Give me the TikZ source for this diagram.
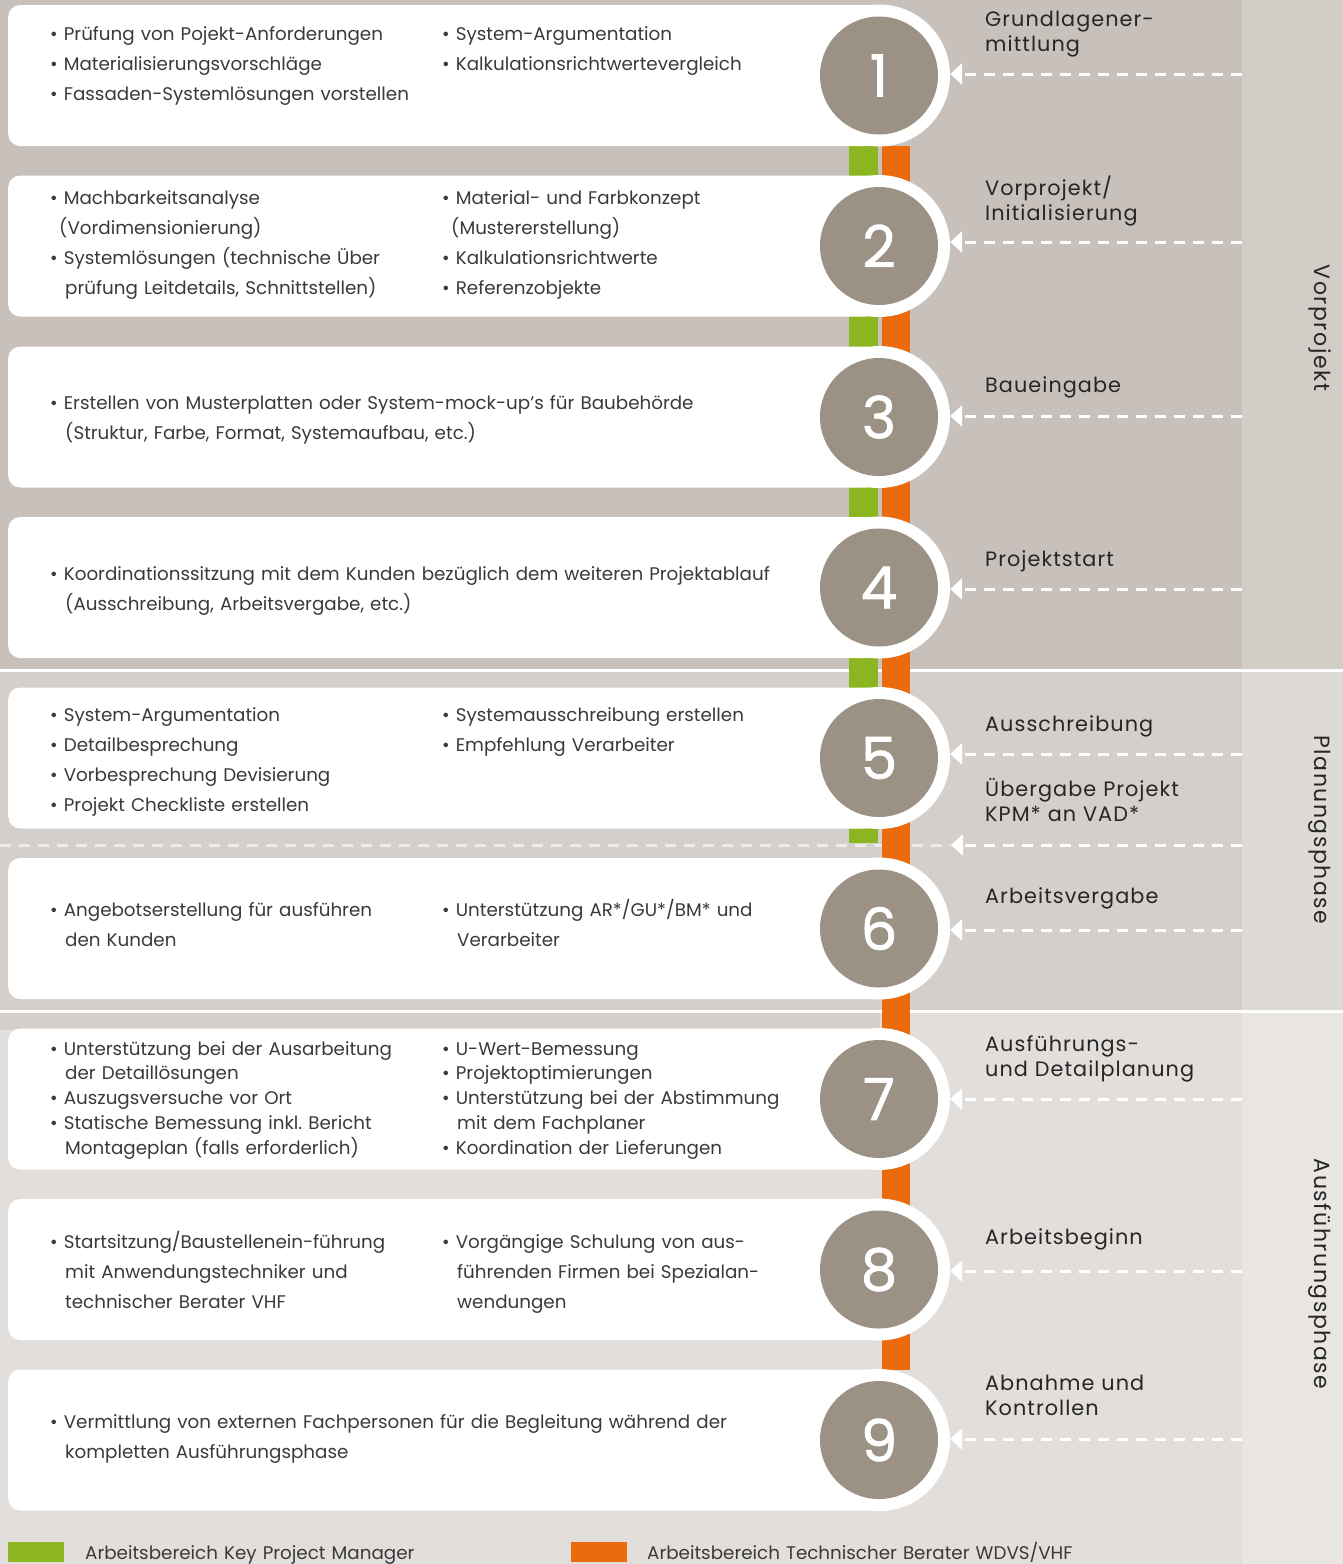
\documentclass[tikz,border=0pt]{standalone}
\usepackage{fontspec}
\setmainfont{Poppins}
\newfontfamily\labelfont[LetterSpace=5]{Poppins}
\newfontfamily\phasefont[LetterSpace=7]{Poppins}
\newfontfamily\digitfont[FakeBold=1.2]{Poppins}
\usetikzlibrary{arrows.meta}

\definecolor{vorbg}{HTML}{C8C1BB}
\definecolor{vorstrip}{HTML}{D3CDC8}
\definecolor{planbg}{HTML}{D4CFCA}
\definecolor{planstrip}{HTML}{DEDAD6}
\definecolor{ausbg}{HTML}{E2DEDB}
\definecolor{ausstrip}{HTML}{E8E5E2}
\definecolor{numgray}{HTML}{9C9185}
\definecolor{kpm}{HTML}{8BB521}
\definecolor{tb}{HTML}{EA6A0C}
\definecolor{textgray}{HTML}{3A3A3A}

\newcommand\cont{\hspace*{15pt}}

\tikzset{
  card/.style={fill=white,rounded corners=12pt,minimum width=871pt,%
    minimum height=141pt,inner sep=0pt,anchor=west},
  ring/.style={circle,fill=white,minimum size=142pt,inner sep=0pt},
  num/.style={circle,fill=numgray,minimum size=118pt,inner sep=0pt,%
    text=white,font=\digitfont\fontsize{58}{58}\selectfont},
  txt/.style={anchor=base west,align=left,inner sep=0pt,text=textgray,%
    text width=#1,font=\fontsize{18.3}{30}\selectfont},
  txt/.default=380pt,
  txtb/.style={txt=#1,font=\fontsize{18.3}{24.8}\selectfont},
  txtb/.default=380pt,
  stage/.style={anchor=base west,align=left,inner sep=0pt,text=black!85,%
    text width=250pt,font=\labelfont\fontsize{20.8}{25}\selectfont},
  phase/.style={rotate=-90,inner sep=0pt,text=black!85,%
    font=\phasefont\fontsize{22}{25}\selectfont},
  flow/.style={white,line width=3pt,dash pattern=on 11pt off 8pt,%
    -{Triangle[length=12pt,width=21pt]}},
}

\begin{document}
\begin{tikzpicture}[x=1pt,y=-1pt]
  \useasboundingbox (0,0) rectangle (1343,1564) ;
  % phase bands
  \fill[vorbg] (0,0) rectangle (1242,669) ;
  \fill[vorstrip] (1242,0) rectangle (1343,669) ;
  \fill[planbg] (0,672) rectangle (1242,1010) ;
  \fill[planstrip] (1242,672) rectangle (1343,1010) ;
  \fill[ausbg] (0,1013) rectangle (1242,1564) ;
  \fill[ausstrip] (1242,1013) rectangle (1343,1564) ;
  \fill[planbg] (0,1013) rectangle (880,1030) ;
  \fill[white] (0,669) rectangle (1343,672) ;
  \fill[white] (0,1010) rectangle (1343,1013) ;

  % handover line
  \coordinate (hand0) at (0,845) ;
  \coordinate (hand1) at (1242,845) ;
  \coordinate (hand2) at (951,845) ;
  \draw[white,opacity=.6,line width=3pt,dash pattern=on 11pt off 8pt] %
    (hand0) -- (hand2) ;

  % working areas
  \fill[kpm] (849,146) rectangle (878,843) ;
  \fill[tb] (882,146) rectangle (910,1370) ;

  % cards and numbers
  \foreach \i/\y in {1/75.5,2/246,3/417,4/587.5,5/758,6/928.5,7/1099,8/1269.5,9/1440}
  {
    \node[card] (card\i) at (8,\y) {} ;
    \node[ring] (ring\i) at (879,\y) {} ;
    \node[num] (num\i) at (ring\i) {\i} ;
  }

  % card texts
  \node[txt] (t1a) at (50,40) {• Prüfung von Pojekt-Anforderungen\\%
    • Materialisierungsvorschläge\\• Fassaden-Systemlösungen vorstellen} ;
  \node[txt] (t1b) at (442,40) {• System-Argumentation\\%
    • Kalkulationsrichtwertevergleich} ;
  \node[txt] (t2a) at (50,204) {• Machbarkeitsanalyse\\%
    \hspace*{9pt}(Vordimensionierung)\\• Systemlösungen (technische Über\\%
    \cont prüfung Leitdetails, Schnittstellen)} ;
  \node[txt] (t2b) at (442,204) {• Material- und Farbkonzept\\%
    \hspace*{9pt}(Mustererstellung)\\• Kalkulationsrichtwerte\\%
    • Referenzobjekte} ;
  \node[txt=760pt] (t3) at (50,409) {• Erstellen von Musterplatten oder %
    System-mock-up's für Baubehörde\\%
    \cont(Struktur, Farbe, Format, Systemaufbau, etc.)} ;
  \node[txt=760pt] (t4) at (50,580) {• Koordinationssitzung mit dem Kunden %
    bezüglich dem weiteren Projektablauf\\%
    \cont(Ausschreibung, Arbeitsvergabe, etc.)} ;
  \node[txt] (t5a) at (50,721) {• System-Argumentation\\• Detailbesprechung\\%
    • Vorbesprechung Devisierung\\• Projekt Checkliste erstellen} ;
  \node[txt] (t5b) at (442,721) {• Systemausschreibung erstellen\\%
    • Empfehlung Verarbeiter} ;
  \node[txt] (t6a) at (50,916) {• Angebotserstellung für ausführen\\%
    \cont den Kunden} ;
  \node[txt] (t6b) at (442,916) {• Unterstützung AR*/GU*/BM* und\\%
    \cont Verarbeiter} ;
  \node[txtb] (t7a) at (50,1055) {• Unterstützung bei der Ausarbeitung\\%
    \cont der Detaillösungen\\• Auszugsversuche vor Ort\\%
    • Statische Bemessung inkl.\ Bericht\\%
    \cont Montageplan (falls erforderlich)} ;
  \node[txtb] (t7b) at (442,1055) {• U-Wert-Bemessung\\• Projektoptimierungen\\%
    • Unterstützung bei der Abstimmung\\\cont mit dem Fachplaner\\%
    • Koordination der Lieferungen} ;
  \node[txt] (t8a) at (50,1248) {• Startsitzung/Baustellenein-führung\\%
    \cont mit Anwendungstechniker und\\\cont technischer Berater VHF} ;
  \node[txt] (t8b) at (442,1248) {• Vorgängige Schulung von aus-\\%
    \cont führenden Firmen bei Spezialan-\\\cont wendungen} ;
  \node[txt=760pt] (t9) at (50,1428) {• Vermittlung von externen Fachpersonen %
    für die Begleitung während der\\\cont kompletten Ausführungsphase} ;

  % milestones
  \foreach \i/\y in {1/74,2/242,3/416,4/589,5/754,6/930,7/1099,8/1271,9/1439}
  {
    \coordinate (src\i) at (1242,\y) ;
    \draw[flow] (src\i) -- (ring\i.east |- src\i) ;
  }
  \draw[flow] (hand1) -- (hand2) ;

  \node[stage] (s1) at (985,26) {Grundlagener-\\mittlung} ;
  \node[stage] (s2) at (985,195) {Vorprojekt/\\Initialisierung} ;
  \node[stage] (s3) at (985,392) {Baueingabe} ;
  \node[stage] (s4) at (985,566) {Projektstart} ;
  \node[stage] (s5) at (985,731) {Ausschreibung} ;
  \node[stage] (s5b) at (985,796) {Übergabe Projekt\\KPM* an VAD*} ;
  \node[stage] (s6) at (985,903) {Arbeitsvergabe} ;
  \node[stage] (s7) at (985,1051) {Ausführungs-\\und Detailplanung} ;
  \node[stage] (s8) at (985,1244) {Arbeitsbeginn} ;
  \node[stage] (s9) at (985,1390) {Abnahme und\\Kontrollen} ;

  % phases
  \node[phase] (ph1) at (1320,328) {Vorprojekt} ;
  \node[phase] (ph2) at (1320,830) {Planungsphase} ;
  \node[phase] (ph3) at (1320,1274) {Ausführungsphase} ;

  % legend
  \node[fill=kpm,minimum width=56pt,minimum height=20pt,inner sep=0pt,%
    anchor=north west] (keykpm) at (8,1542) {} ;
  \node[txt] (lkpm) at (85,1559) {Arbeitsbereich Key Project Manager} ;
  \node[fill=tb,minimum width=56pt,minimum height=20pt,inner sep=0pt,%
    anchor=north west] (keytb) at (571,1542) {} ;
  \node[txt=600pt] (ltb) at (647,1559) {Arbeitsbereich Technischer Berater WDVS/VHF} ;
\end{tikzpicture}
\end{document}
